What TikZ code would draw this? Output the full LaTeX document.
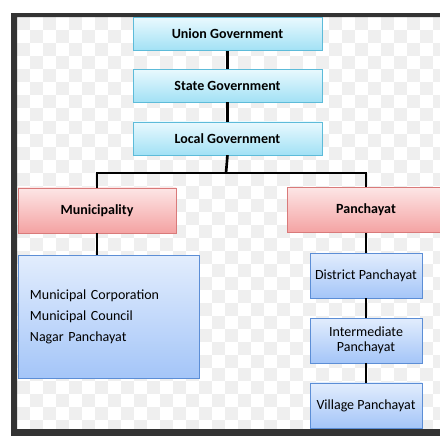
\documentclass[tikz,border=0pt]{standalone}
\usepackage{fontspec}
\setmainfont{Carlito}
\usetikzlibrary{positioning}

\definecolor{cyantop}{HTML}{E9F9FE}
\definecolor{cyanbot}{HTML}{A2E1F5}
\definecolor{cyanline}{HTML}{5DBBD9}
\definecolor{pinktop}{HTML}{FDE6E6}
\definecolor{pinkbot}{HTML}{F4A2A2}
\definecolor{pinkline}{HTML}{D97A7A}
\definecolor{bluetop}{HTML}{E2EDFD}
\definecolor{bluebot}{HTML}{A4C5F8}
\definecolor{blueline}{HTML}{5C8ED6}
\definecolor{framegray}{HTML}{333333}
\definecolor{checkgray}{HTML}{EFEFEF}

\begin{document}
\begin{tikzpicture}[
    x=0.75pt, y=-0.75pt,
    node distance=14.5pt,
    govnode/.style={draw=cyanline, top color=cyantop, bottom color=cyanbot,
        minimum width=141.75pt, minimum height=24.75pt,
        font=\fontsize{10.5}{12}\selectfont\bfseries},
    localnode/.style={draw=pinkline, top color=pinktop, bottom color=pinkbot,
        minimum width=118.5pt, minimum height=34pt,
        font=\fontsize{10.5}{12}\selectfont\bfseries},
    bodynode/.style={draw=blueline, top color=bluetop, bottom color=bluebot,
        minimum width=84pt, minimum height=33.75pt, align=center,
        font=\fontsize{10.5}{11.5}\selectfont},
    link/.style={draw=black, line width=2pt}
    ]
        %Background
        \clip (0,0) rectangle (440,436);
        \fill[white] (0,0) rectangle (440,436);
        \foreach \i in {0,2,...,32}
            \foreach \j in {0,2,...,30} {
                \fill[checkgray] (17+13*\i,17+13*\j) rectangle +(13,13);
                \fill[checkgray] (30+13*\i,30+13*\j) rectangle +(13,13);
            }
        \fill[framegray, even odd rule]
            (11,13) rectangle (460,436) (17,17) rectangle (460,429);

        %Nodes
        \node[govnode]
            (union)     at (227.5,34)       {Union Government};
        \node[govnode]
            (state)     [below=13.5pt of union]   {State Government};
        \node[govnode]
            (local)     [below=of state]    {Local Government};
        \node[localnode]
            (muni)      at (97,210.5)       {Municipality};
        \node[localnode]
            (panch)     at (366,210)        {Panchayat};
        \node[bodynode, minimum width=135.75pt, minimum height=92.25pt,
              text width=117.75pt, inner xsep=9pt, align=left,
              font=\fontsize{10.5}{15.75}\selectfont]
            (mlist)     [below=16.5pt of muni.south west, anchor=north west]
            {Municipal Corporation\\Municipal Council\\Nagar Panchayat};
        \node[bodynode]
            (district)  [below=15pt of panch]   {District Panchayat};
        \node[bodynode]
            (inter)     [below=of district]     {Intermediate\\Panchayat};
        \node[bodynode]
            (village)   [below=of inter]        {Village Panchayat};
        \coordinate (bar) at (226,173);

        %Lines
        \draw[link] (union.south) -- (state.north);
        \draw[link] (state.south) -- (local.north);
        \draw[link] (local.south) -- (bar);
        \draw[link] (muni.north) |- (bar) -| (panch.north);
        \draw[link] (muni.south) -- (muni.south |- mlist.north);
        \draw[link] (panch.south) -- (district.north);
        \draw[link] (district.south) -- (inter.north);
        \draw[link] (inter.south) -- (village.north);
    \end{tikzpicture}
\end{document}
